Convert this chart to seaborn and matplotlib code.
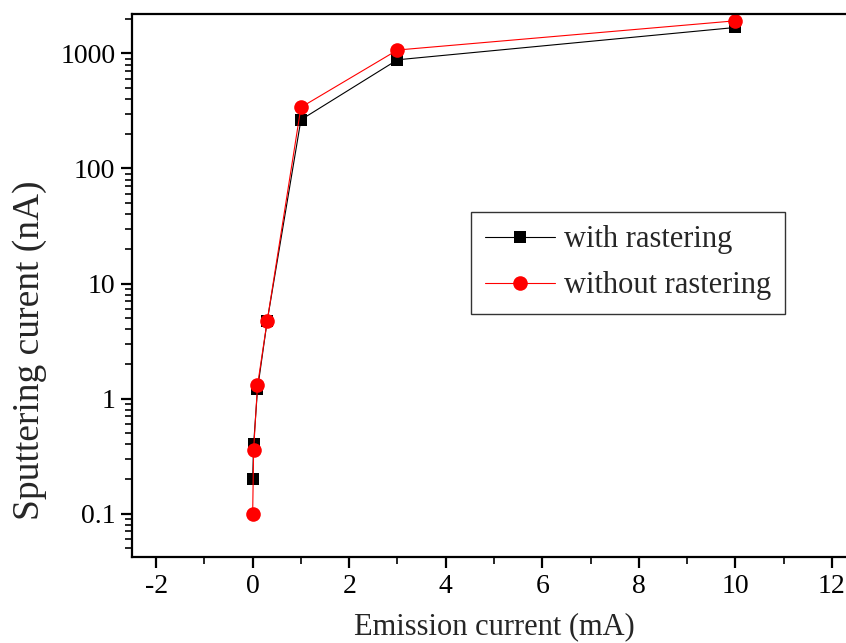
import numpy as np
import pandas as pd
import matplotlib
matplotlib.use('Agg')
import matplotlib.pyplot as plt
import matplotlib.ticker as mtick
import seaborn as sns

# data
emission = [0, 0.02, 0.1, 0.3, 1, 3, 10]
with_raster = [0.2, 0.4, 1.2, 4.7, 265, 880, 1680]
without_raster = [0.1, 0.36, 1.3, 4.7, 340, 1070, 1920]
series_names = ['with rastering', 'without rastering']

df = pd.concat([
    pd.DataFrame({'x': emission, 'y': with_raster, 'series': series_names[0]}),
    pd.DataFrame({'x': emission, 'y': without_raster, 'series': series_names[1]}),
], ignore_index=True)

sns.set_style('ticks')
plt.rcParams['font.family'] = ['Liberation Serif', 'DejaVu Serif']
plt.rcParams['axes.unicode_minus'] = False

fig = plt.figure(figsize=(8.46, 6.43), dpi=100)
ax = fig.add_axes([132/846, 86/643, 724/846, 543/643])

sns.lineplot(data=df, x='x', y='y', hue='series', style='series',
             palette={'with rastering': 'black', 'without rastering': 'red'},
             markers={'with rastering': 's', 'without rastering': 'o'},
             dashes=False, estimator=None, sort=False, lw=0.8,
             markersize=9, markeredgewidth=0, ax=ax)
# bigger circles
for ln in ax.get_lines():
    if ln.get_marker() == 'o':
        ln.set_markersize(10.5)

ax.set_yscale('log')
ax.set_xlim(-2.5, 12.5)
ax.set_ylim(0.042, 2200)

ax.xaxis.set_major_locator(mtick.MultipleLocator(2))
ax.xaxis.set_minor_locator(mtick.MultipleLocator(1))
ax.yaxis.set_major_locator(mtick.LogLocator(base=10, numticks=10))
ax.yaxis.set_minor_locator(mtick.LogLocator(base=10, subs=np.arange(2, 10), numticks=20))
ax.yaxis.set_major_formatter(mtick.FuncFormatter(lambda v, p: ('%g' % v)))
ax.yaxis.set_minor_formatter(mtick.NullFormatter())

for s in ax.spines.values():
    s.set_linewidth(1.6)
    s.set_color('black')
ax.tick_params(which='major', direction='out', length=8, width=1.6, labelsize=20, pad=4, colors='black')
ax.tick_params(which='minor', direction='out', length=5, width=1.4)
ax.tick_params(top=False, right=False, which='both')

ax.set_xlabel('Emission current (mA)', fontsize=22, labelpad=10)
ax.set_ylabel('Sputtering curent (nA)', fontsize=27)
ax.yaxis.set_label_coords(-0.117, 0.38)

leg = ax.legend(loc='upper left', bbox_to_anchor=(0.468, 0.636), fontsize=22,
                frameon=True, fancybox=False, handlelength=2.3, handletextpad=0.3,
                borderpad=0.45, labelspacing=0.55, borderaxespad=0)
leg.get_frame().set_edgecolor('black')
leg.get_frame().set_linewidth(1.0)

fig.savefig('out.png', dpi=100)
